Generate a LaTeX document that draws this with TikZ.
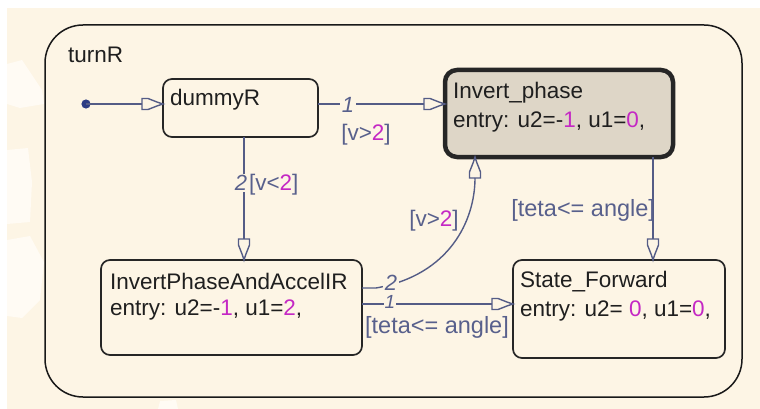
\documentclass[tikz,border=0pt]{standalone}
\usepackage{fontspec}
\setmainfont{Liberation Sans}
\usetikzlibrary{arrows.meta}

\definecolor{cream}{RGB}{253,245,229}
\definecolor{haze}{RGB}{255,251,244}
\definecolor{wire}{RGB}{84,92,134}
\definecolor{lbl}{RGB}{88,96,140}
\definecolor{mag}{RGB}{196,40,196}
\definecolor{dotc}{RGB}{44,60,132}
\definecolor{active}{RGB}{222,214,199}
\newcommand\mg[1]{\textcolor{mag}{#1}}

% hollow Stateflow-style transition tip: flat back, tapering to the point
\pgfdeclarearrow{
  name = SFTip,
  setup code = {
    \pgfarrowssettipend{0pt}
    \pgfarrowssetlineend{-21pt}
    \pgfarrowssetbackend{-21pt}
    \pgfarrowshullpoint{0pt}{0pt}
    \pgfarrowshullpoint{-21pt}{5.5pt}
    \pgfarrowshullpoint{-21pt}{-5.5pt}
  },
  drawing code = {
    \pgfsetdash{}{0pt}
    \pgfsetmiterjoin
    \pgfpathmoveto{\pgfqpoint{0pt}{0pt}}
    \pgfpathlineto{\pgfqpoint{-5pt}{1.6pt}}
    \pgfpathlineto{\pgfqpoint{-15pt}{5.5pt}}
    \pgfpathlineto{\pgfqpoint{-21pt}{5.5pt}}
    \pgfpathlineto{\pgfqpoint{-21pt}{-5.5pt}}
    \pgfpathlineto{\pgfqpoint{-15pt}{-5.5pt}}
    \pgfpathlineto{\pgfqpoint{-5pt}{-1.6pt}}
    \pgfpathclose
    \pgfusepathqstroke
  }
}

\begin{document}
\begin{tikzpicture}[x=1pt,y=-1pt,
  every node/.style={font=\fontsize{22.5}{28}\selectfont, inner sep=0pt, outer sep=0pt},
  statebox/.style={draw=black!85, line width=1.7pt, rounded corners=9pt, anchor=north west},
  activebox/.style={statebox, fill=active, line width=4.5pt, rounded corners=12pt},
  outerbox/.style={draw=black!90, line width=1.5pt, rounded corners=38pt, anchor=north west},
  stext/.style={anchor=base west, text=black!88},
  trans/.style={draw=wire, line width=1.4pt, -SFTip},
  order/.style={fill=cream, inner sep=1.5pt, text=lbl, font=\fontsize{22}{26}\selectfont\itshape},
  guard/.style={text=lbl}
]
% canvas
\useasboundingbox (0,0) rectangle (760,409);
\fill[cream] (0,0) rectangle (760,409);
\fill[white] (0,0) rectangle (760,8);
\fill[white] (0,0) rectangle (7,409);
\fill[haze] (7,64) -- (22,60) -- (42,90) -- (44,104) -- (20,108) -- (7,104) -- cycle;
\fill[haze] (7,150) -- (28,148) -- (32,182) -- (30,222) -- (7,224) -- cycle;
\fill[haze] (7,240) -- (30,236) -- (44,262) -- (40,300) -- (22,318) -- (7,316) -- cycle;
\fill[haze] (160,401) -- (176,400) -- (178,409) -- (158,409) -- cycle;

% superstate
\node[outerbox, minimum width=697pt, minimum height=372pt] (turnR) at (45,25) {};
\node[stext] (turnRlbl) at (68,63) {turnR};

% states
\node[statebox, minimum width=155pt, minimum height=58pt] (dum) at (163,79) {};
\node[stext] (dumT) at (170,106) {dummyR};

\node[activebox, minimum width=228pt, minimum height=87pt] (inv) at (445,70) {};
\node[stext] (invT) at (453,99) {Invert\_phase};
\node[stext] (invE) at (453,128) {entry: u2=-\mg{1}, u1=\mg{0},};

\node[statebox, minimum width=261pt, minimum height=95pt] (ipa) at (101,260) {};
\node[stext] (ipaT) at (110,289) {InvertPhaseAndAccelIR};
\node[stext] (ipaE) at (110,315) {entry: u2=-\mg{1}, u1=\mg{2},};

\node[statebox, minimum width=212pt, minimum height=98pt] (fwd) at (513,260) {};
\node[stext] (fwdT) at (520,287) {State\_Forward};
\node[stext] (fwdE) at (520,316) {entry: u2= \mg{0}, u1=\mg{0},};

% reference levels for the transitions
\coordinate (yA) at (0,104);
\coordinate (xB) at (244,0);
\coordinate (xC) at (653,0);
\coordinate (yD) at (0,288);
\coordinate (yE) at (0,304);
\coordinate (xF) at (475,0);

% default transition
\fill[dotc] (86,104) circle (4.6pt);
\coordinate (init) at (86,104);
\draw[trans] (init) -- (dum.west |- yA);

% dummyR -> Invert_phase
\draw[trans] (dum.east |- yA) -- (inv.west |- yA);
\node[order] (o1) at (348,105) {1};
\node[guard] (g1) at (366,135) {[v>\mg{2}]};

% dummyR -> InvertPhaseAndAccelIR
\draw[trans] (dum.south -| xB) -- (ipa.north -| xB);
\node[order] (o2) at (241,183) {2};
\node[guard, anchor=west] (g2) at (249,185) {[v<\mg{2}]};

% Invert_phase -> State_Forward
\draw[trans] (inv.south -| xC) -- (fwd.north -| xC);
\node[guard, anchor=east, font=\fontsize{23.5}{28}\selectfont] (g3) at (655,210) {[teta<= angle]};

% InvertPhaseAndAccelIR -> Invert_phase
\draw[trans] (ipa.east |- yD) -- (376,288)
  .. controls (450,275) and (475,220) .. (inv.south -| xF);
\node[order] (o4) at (391,283) {2};
\node[guard] (g4) at (434,221) {[v>\mg{2}]};

% InvertPhaseAndAccelIR -> State_Forward
\draw[trans] (ipa.east |- yE) -- (fwd.west |- yE);
\node[order, inner sep=0.6pt, font=\fontsize{19}{22}\selectfont\itshape] (o5) at (390,302) {1};
\node[guard, font=\fontsize{23.5}{28}\selectfont] (g5) at (437,327) {[teta<= angle]};
\end{tikzpicture}
\end{document}
